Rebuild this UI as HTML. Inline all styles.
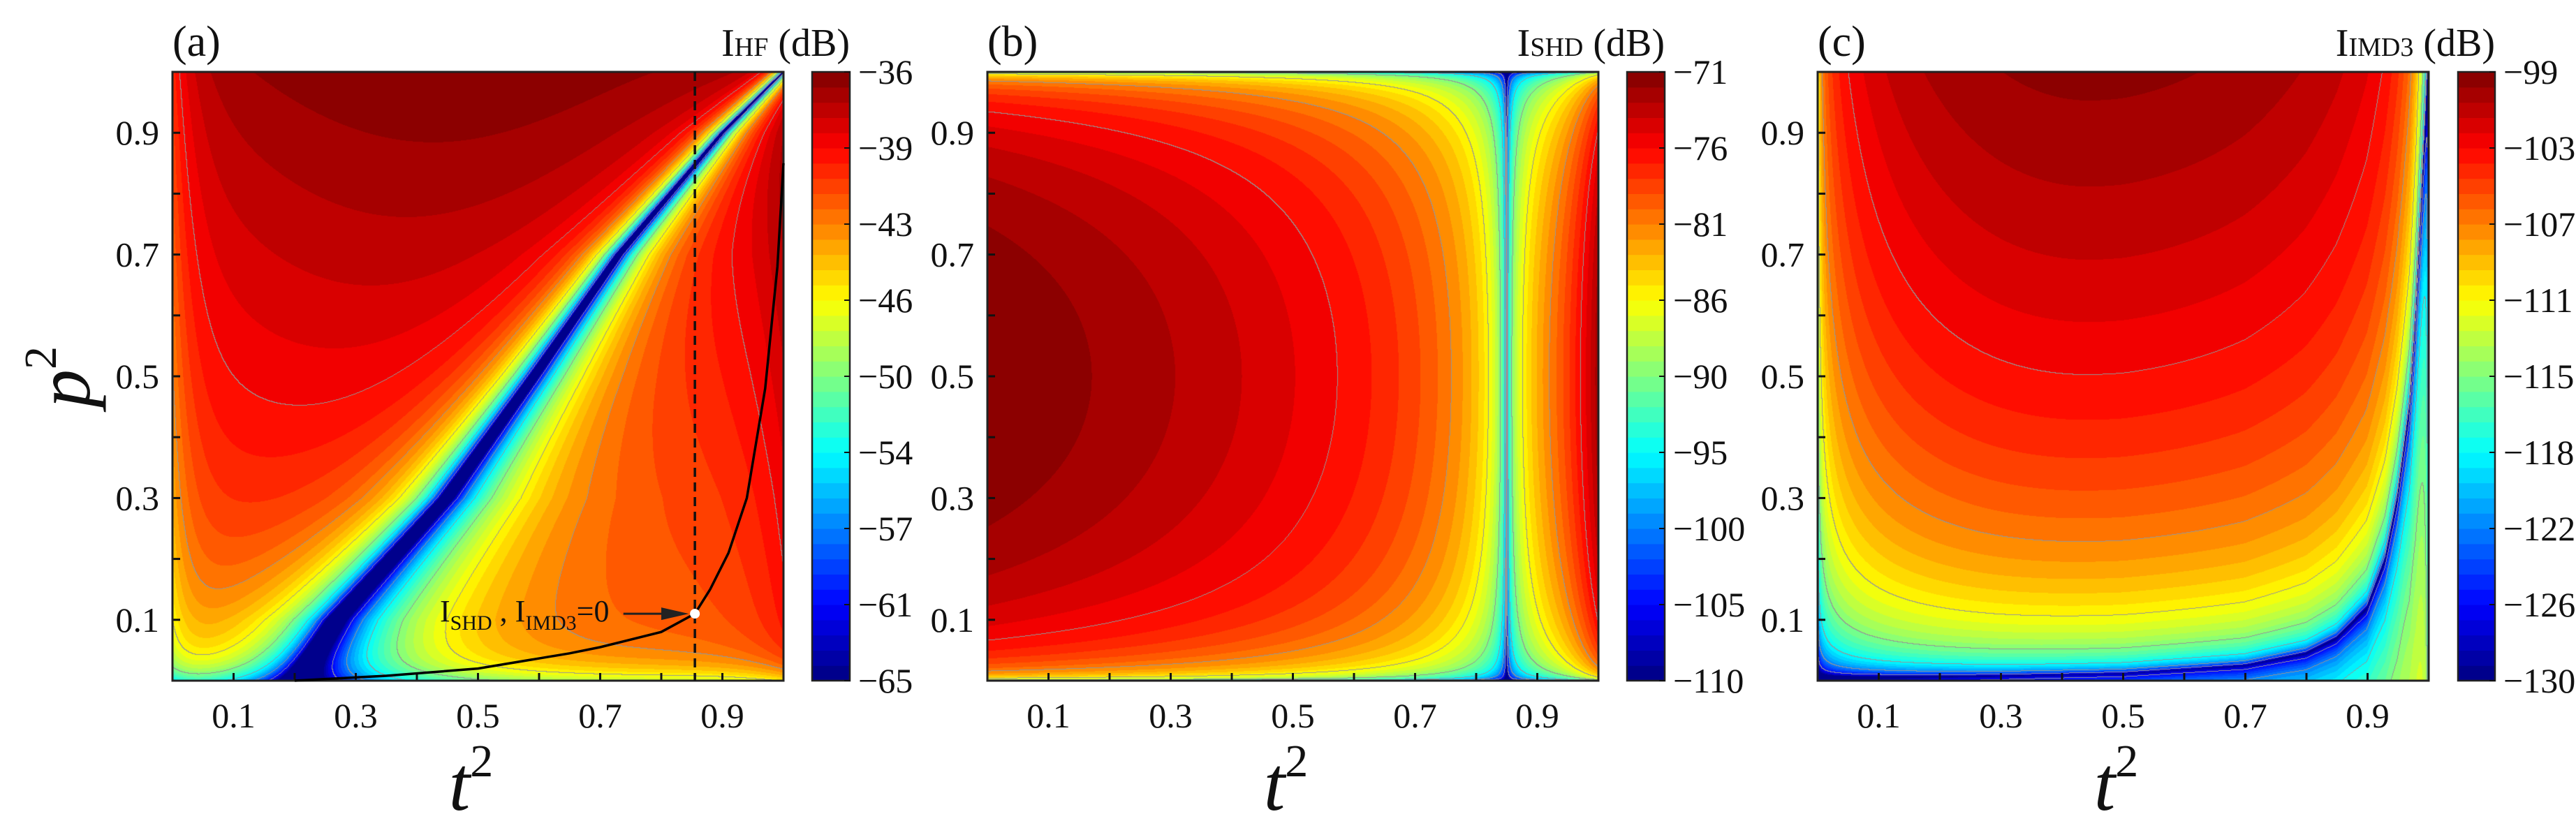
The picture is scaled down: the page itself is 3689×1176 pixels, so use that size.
<!DOCTYPE html>
<html><head><meta charset="utf-8">
<style>
html,body{margin:0;padding:0;background:#fff;}
#root{position:relative;width:3689px;height:1176px;overflow:hidden;background:#fff;}
canvas{position:absolute;}
svg{position:absolute;left:0;top:0;}
text{font-family:"Liberation Serif",serif;fill:#111;}
</style></head>
<body>
<div id="root">
<canvas id="ca" width="875" height="872" style="left:247px;top:103px"></canvas>
<canvas id="cb" width="875" height="872" style="left:1414px;top:103px"></canvas>
<canvas id="cc" width="874" height="872" style="left:2603px;top:103px"></canvas>
<svg id="ov" width="3689" height="1176"></svg>
</div>
<script>
// ---- data ----
const xTickLabels = ["0.1","0.3","0.5","0.7","0.9"];
const yTickLabels = ["0.1","0.3","0.5","0.7","0.9"];
const cbLabelsA = ["−36","−39","−43","−46","−50","−54","−57","−61","−65"];
const cbLabelsB = ["−71","−76","−81","−86","−90","−95","−100","−105","−110"];
const cbLabelsC = ["−99","−103","−107","−111","−115","−118","−122","−126","−130"];
const rangeA = [-65,-36];
const rangeB = [-110,-71];
const rangeC = [-130,-99];
const aValleyP = [0,0.1,0.3,0.5,0.7,0.9,1];
const aValleyT = [0.2,0.264,0.446,0.59,0.73,0.9,1];
const bValleyT = [0.85];
const cValleyT = [0,0.3,0.5,0.7,0.8,0.85,0.9,0.93,0.95,0.97,0.98,1];
const cValleyP = [0.005,0.008,0.012,0.025,0.045,0.07,0.12,0.2,0.3,0.45,0.6,1.0];
const blackT = [0.2,0.35,0.5,0.65,0.7,0.8,0.855,0.88,0.91,0.94,0.97,0.99,1];
const blackP = [0,0.008,0.02,0.045,0.055,0.08,0.11,0.15,0.21,0.3,0.48,0.68,0.85];
const markT = [0.855];
const markP = [0.11];

const PW=875, PH=872, TOP=103;
const panelX=[247,1414,2603];
const cbX=[1163,2330,3520];
const NB=40;

function interp(xs,ys,x){
  if(x<=xs[0])return ys[0];
  for(let i=1;i<xs.length;i++){ if(x<=xs[i]){const f=(x-xs[i-1])/(xs[i]-xs[i-1]);return ys[i-1]+f*(ys[i]-ys[i-1]);} }
  return ys[ys.length-1];
}
function cl(v){return v<0?0:v>1?1:v;}
function jet(f){return [cl(1.5-Math.abs(4*f-3)),cl(1.5-Math.abs(4*f-2)),cl(1.5-Math.abs(4*f-1))].map(v=>Math.round(v*255));}

function fA(t,p){
  const c=interp(aValleyP,aValleyT,p);
  const d=t-c, w=(0.05+0.2*(1-p))*(d>0?1+0.6*(1-p):0.85);
  return -36-4.5*Math.pow(1-p,0.9)-2*Math.pow((t-0.45)/0.55,2)-3.5*Math.exp(-t/0.03)-6*Math.exp(-p/0.025)
    +3*Math.exp(-(1-t)/0.08)
    +10*Math.log10(d*d/(d*d+w*w)+1e-4);
}
function fB(t,p){
  const d=t-bValleyT[0];
  let dn=d<0?-d/0.85:(d/0.8)*(1+3*Math.exp(-(1-t)/0.03)); dn=Math.min(dn,1);
  return -71+8*Math.log10(4*p*(1-p)+1e-6)+10*Math.log10(dn+1e-5);
}
function fC(t,p){
  const c=interp(cValleyT,cValleyP,t);
  let pen;
  if(t<0.45){const s=t/0.45;pen=5*Math.log10(s*(2-s)+1e-6);}
  else{const s=(1-t)/0.55;pen=4*Math.log10(s*(2-s)+1e-6);}
  const d=p>=c?(p-c):(c-p)*0.3;
  return -99.5+11*Math.log10(d+0.002)+pen;
}

function draw(id,f,rng){
  const cv=document.getElementById(id), W=cv.width, H=cv.height, ctx=cv.getContext('2d');
  const img=ctx.createImageData(W,H), idx=new Int16Array(W*H);
  for(let y=0;y<H;y++){const p=1-(y+0.5)/H;
    for(let x=0;x<W;x++){const t=(x+0.5)/W;
      let v=f(t,p); let k=Math.floor((v-rng[0])/(rng[1]-rng[0])*NB); k=k<0?0:k>=NB?NB-1:k; idx[y*W+x]=k;}}
  for(let y=0;y<H;y++)for(let x=0;x<W;x++){
    const i=y*W+x,k=idx[i]; let col=jet((k+0.5)/NB);
    const g=Math.floor(k/5);
    if((x+1<W&&Math.floor(idx[i+1]/5)!==g)||(y+1<H&&Math.floor(idx[i+W]/5)!==g)) col=[150,150,150];
    img.data[i*4]=col[0];img.data[i*4+1]=col[1];img.data[i*4+2]=col[2];img.data[i*4+3]=255;}
  ctx.putImageData(img,0,0);
}
draw('ca',fA,rangeA);draw('cb',fB,rangeB);draw('cc',fC,rangeC);

const NS="http://www.w3.org/2000/svg", ov=document.getElementById('ov');
function el(tag,attrs,parent){const e=document.createElementNS(NS,tag);for(const k in attrs)e.setAttribute(k,attrs[k]);(parent||ov).appendChild(e);return e;}

const labels=[cbLabelsA,cbLabelsB,cbLabelsC];
const letters=["(a)","(b)","(c)"];
const subs=["HF","SHD","IMD3"];
for(let k=0;k<3;k++){
  const X0=panelX[k];
  const sx=t=>X0+t*PW, sy=p=>TOP+PH-p*PH;
  for(let i=1;i<10;i++){
    const tx=el('line',{x1:sx(i/10),x2:sx(i/10),y1:TOP+PH,y2:TOP+PH-11,stroke:'#111','stroke-width':3});
    
    
    const ty=el('line',{x1:X0,x2:X0+11,y1:sy(i/10),y2:sy(i/10),stroke:'#111','stroke-width':3});
    
    
  }
  xTickLabels.forEach(s=>{const t=el('text',{x:sx(parseFloat(s)),y:1042,'font-size':50,'text-anchor':'middle'});t.textContent=s;
    
    });
  yTickLabels.forEach(s=>{const t=el('text',{x:X0-19,y:sy(parseFloat(s))+17,'font-size':50,'text-anchor':'end'});t.textContent=s;
    
    });
  const fr=el('rect',{x:X0,y:TOP,width:PW,height:PH,fill:'none',stroke:'#222','stroke-width':3});
  
  
  const xt=el('text',{x:X0+PW/2-10,y:1160,'font-size':110,'font-style':'italic','text-anchor':'middle'});
  
  
  xt.innerHTML='t<tspan dy="-48" font-size="66" font-style="normal">2</tspan>';
  const lt=el('text',{x:X0,y:80,'font-size':62});lt.textContent=letters[k];
  
  
  const cx=cbX[k], cw=k===2?53:54;
  const g=el('g',{});
  
  
  for(let b=0;b<NB;b++){const c=jet((b+0.5)/NB);
    el('rect',{x:cx,y:TOP+PH-(b+1)*PH/NB,width:cw,height:PH/NB+0.6,fill:`rgb(${c})`},g);}
  el('rect',{x:cx,y:TOP,width:cw,height:PH,fill:'none',stroke:'#222','stroke-width':2.5},g);
  labels[k].forEach((s,i)=>{const y=TOP+i*PH/8;
    el('line',{x1:cx+cw-8,x2:cx+cw,y1:y,y2:y,stroke:'#111','stroke-width':2},g);
    const t=el('text',{x:cx+cw+12,y:y+17,'font-size':50});t.textContent=s;
    
    });
  const ct=el('text',{x:cx+cw,y:80,'font-size':56,'text-anchor':'end'});
  
  
  ct.innerHTML='I<tspan font-size="38">'+subs[k]+'</tspan> (dB)';
}
const yt=el('text',{x:0,y:0,'font-size':110,'font-style':'italic','text-anchor':'middle',transform:'translate(128,540) rotate(-90)'});


yt.innerHTML='p<tspan dy="-48" font-size="66" font-style="normal">2</tspan>';

const sxa=t=>panelX[0]+t*PW, sya=p=>TOP+PH-p*PH;
const dash=el('line',{x1:sxa(markT[0]),x2:sxa(markT[0]),y1:TOP,y2:TOP+PH,stroke:'#111','stroke-width':3.5,'stroke-dasharray':'13,8'});


const pts=blackT.map((t,i)=>sxa(t).toFixed(1)+','+sya(blackP[i]).toFixed(1)).join(' ');
const bc=el('polyline',{points:pts,fill:'none',stroke:'#000','stroke-width':3.5});


const ar=el('line',{x1:sxa(0.738),x2:sxa(0.80),y1:sya(markP[0]),y2:sya(markP[0]),stroke:'#222','stroke-width':3});


const ah=el('polygon',{points:`${sxa(0.80)},${sya(markP[0])-9} ${sxa(0.845)},${sya(markP[0])} ${sxa(0.80)},${sya(markP[0])+9}`,fill:'#222'});


const dot=el('circle',{cx:sxa(markT[0]),cy:sya(markP[0]),r:7,fill:'#fff'});


const an=el('text',{x:630,y:890,'font-size':44});


an.innerHTML='I<tspan dy="12" font-size="30">SHD</tspan><tspan dy="-12"> , I</tspan><tspan dy="12" font-size="30">IMD3</tspan><tspan dy="-12">=0</tspan>';
</script>
</body></html>
